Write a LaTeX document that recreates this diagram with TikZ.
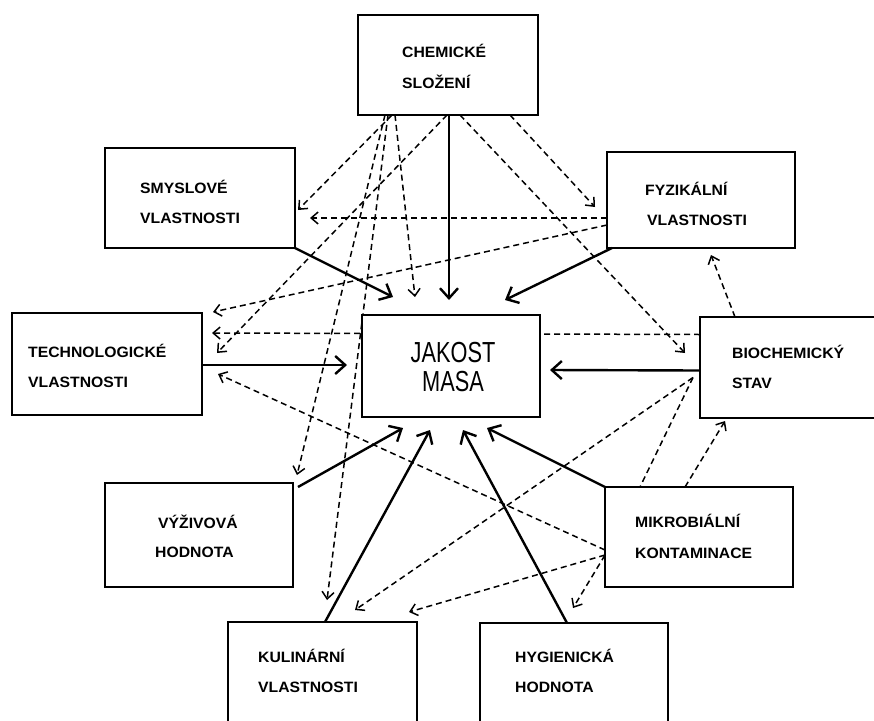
\documentclass[tikz,border=0pt]{standalone}
\usepackage{fontspec}
\setmainfont{Liberation Sans}
\newfontfamily\labfont[FakeStretch=1.05]{Liberation Sans}
\newfontfamily\bigfont[FakeStretch=0.75]{Liberation Sans}
\usetikzlibrary{arrows.meta,calc,backgrounds}
\begin{document}
\begin{tikzpicture}[x=1pt,y=-1pt,
  box/.style={draw,line width=2.8pt,fill=white,inner sep=0pt,outer sep=0pt},
  lab/.style={font=\labfont\bfseries\fontsize{15}{16}\selectfont,inner sep=0pt,anchor=base west},
  biglab/.style={font=\bigfont\fontsize{29}{30}\selectfont,inner sep=0pt,anchor=base},
  solidarr/.style={line width=2.4pt,-{Straight Barb[length=10pt,width=18pt,line width=2.4pt]}},
  dasharr/.style={line width=1.5pt,dash pattern=on 6pt off 4pt,-{Straight Barb[length=7pt,width=12pt,line width=1.5pt]}},
  dashline/.style={line width=1.5pt,dash pattern=on 6pt off 4pt}]
\useasboundingbox (0,0) rectangle (874,720);
% boxes
\node[box,minimum width=180pt,minimum height=100pt] (chem) at (448,65) {};
\node[box,minimum width=190pt,minimum height=100pt] (smysl) at (200,198) {};
\node[box,minimum width=188pt,minimum height=96pt] (fyz) at (701,200) {};
\node[box,minimum width=190pt,minimum height=102pt] (tech) at (107,364) {};
\node[box,minimum width=178pt,minimum height=102pt] (jak) at (451,366) {};
\node[box,minimum width=180pt,minimum height=101pt] (bio) at (790,367.5) {};
\node[box,minimum width=188pt,minimum height=104pt] (vyz) at (199,535) {};
\node[box,minimum width=188pt,minimum height=100pt] (mik) at (699,537) {};
\node[box,minimum width=189pt,minimum height=103pt] (kul) at (322.5,673.5) {};
\node[box,minimum width=188pt,minimum height=102pt] (hyg) at (574,674) {};
% labels
\node[lab] (chemA) at (402,57) {CHEMICKÉ};
\node[lab] (chemB) at (402,88) {SLOŽENÍ};
\node[lab] (smyslA) at (140,193) {SMYSLOVÉ};
\node[lab] (smyslB) at (140,223) {VLASTNOSTI};
\node[lab] (fyzA) at (645,195) {FYZIKÁLNÍ};
\node[lab] (fyzB) at (647,225) {VLASTNOSTI};
\node[lab] (techA) at (28,357) {TECHNOLOGICKÉ};
\node[lab] (techB) at (28,387) {VLASTNOSTI};
\node[biglab] (jakA) at (453,362) {JAKOST};
\node[biglab] (jakB) at (453,391) {MASA};
\node[lab] (bioA) at (732,358) {BIOCHEMICKÝ};
\node[lab] (bioB) at (732,388) {STAV};
\node[lab] (vyzA) at (158,528) {VÝŽIVOVÁ};
\node[lab] (vyzB) at (155,557) {HODNOTA};
\node[lab] (mikA) at (635,527) {MIKROBIÁLNÍ};
\node[lab] (mikB) at (635,558) {KONTAMINACE};
\node[lab] (kulA) at (258,662) {KULINÁRNÍ};
\node[lab] (kulB) at (258,692) {VLASTNOSTI};
\node[lab] (hygA) at (515,662) {HYGIENICKÁ};
\node[lab] (hygB) at (515,692) {HODNOTA};
\begin{scope}[on background layer]
\fill[white] (0,0) rectangle (874,720);
% dashed connectors
\draw[dasharr] ([xshift=34pt]chem.south west) -- ([xshift=3pt,yshift=-12pt]smysl.east);
\draw[dasharr] ([xshift=-1pt]chem.south) -- ([xshift=15pt,yshift=-40pt]tech.north east);
\draw[dasharr] ([xshift=27pt]chem.south west) -- ([xshift=4pt,yshift=8pt]vyz.north east);
\draw[dasharr] ([xshift=30pt]chem.south west) -- ([xshift=99pt,yshift=22pt]kul.north west);
\draw[dasharr] ([xshift=37pt]chem.south west) -- ([xshift=53pt,yshift=18pt]jak.north west);
\draw[dasharr] ([xshift=-28pt]chem.south east) -- ([xshift=-12pt,yshift=-55pt]fyz.north west);
\draw[dasharr] ([xshift=12pt]chem.south) -- ([xshift=-15pt,yshift=-36pt]bio.north west);
\draw[dasharr] ([yshift=-18pt]fyz.west) -- ([xshift=15pt,yshift=-20pt]smysl.east);
\draw[dasharr] ([yshift=-25pt]fyz.west) -- ([xshift=11pt,yshift=1pt]tech.north east);
\draw[dasharr] ([yshift=33pt]bio.west) -- ([xshift=10pt,yshift=31pt]tech.east);
\draw[dasharr] ([yshift=-13pt]mik.west) -- ([xshift=16pt,yshift=-10pt]tech.east);
\draw[dasharr] ([xshift=35pt]bio.north west) -- ([xshift=10pt,yshift=-7pt]fyz.south);
\draw[dasharr] ([xshift=80pt]mik.north west) -- ([xshift=25pt,yshift=-3pt]bio.south west);
\draw[dasharr] ([xshift=-7pt,yshift=-10pt]bio.west) -- ([xshift=127pt,yshift=12pt]kul.north west);
\draw[dashline] ([xshift=-7pt,yshift=-10pt]bio.west) -- ([xshift=35pt]mik.north west);
\draw[dasharr] ([yshift=-18pt]mik.west) -- ([xshift=-8pt,yshift=10pt]kul.north east);
\draw[dasharr] ([yshift=-18pt]mik.west) -- ([xshift=93pt,yshift=15pt]hyg.north west);
\end{scope}
% solid connectors
\draw[solidarr] ([xshift=1pt]chem.south) -- ([xshift=-2pt,yshift=15pt]jak.north);
\draw[solidarr] (smysl.south east) -- ([xshift=31pt,yshift=18pt]jak.north west);
\draw[solidarr] ([xshift=5pt]fyz.south west) -- ([xshift=-35pt,yshift=15pt]jak.north east);
\draw[solidarr] ([yshift=-1pt]tech.east) -- ([xshift=-15pt,yshift=1pt]jak.west);
\draw[solidarr] ([yshift=-3pt]bio.west) -- ([xshift=10pt,yshift=-4pt]jak.east);
\draw[solidarr] ([xshift=5pt,yshift=-4pt]vyz.north east) -- ([xshift=41pt,yshift=-11pt]jak.south west);
\draw[solidarr] ([xshift=97pt]kul.north west) -- ([xshift=68pt,yshift=-13pt]jak.south west);
\draw[solidarr] ([xshift=87pt]hyg.north west) -- ([xshift=101pt,yshift=-13pt]jak.south west);
\draw[solidarr] (mik.north west) -- ([xshift=125pt,yshift=-11pt]jak.south west);
\end{tikzpicture}
\end{document}
